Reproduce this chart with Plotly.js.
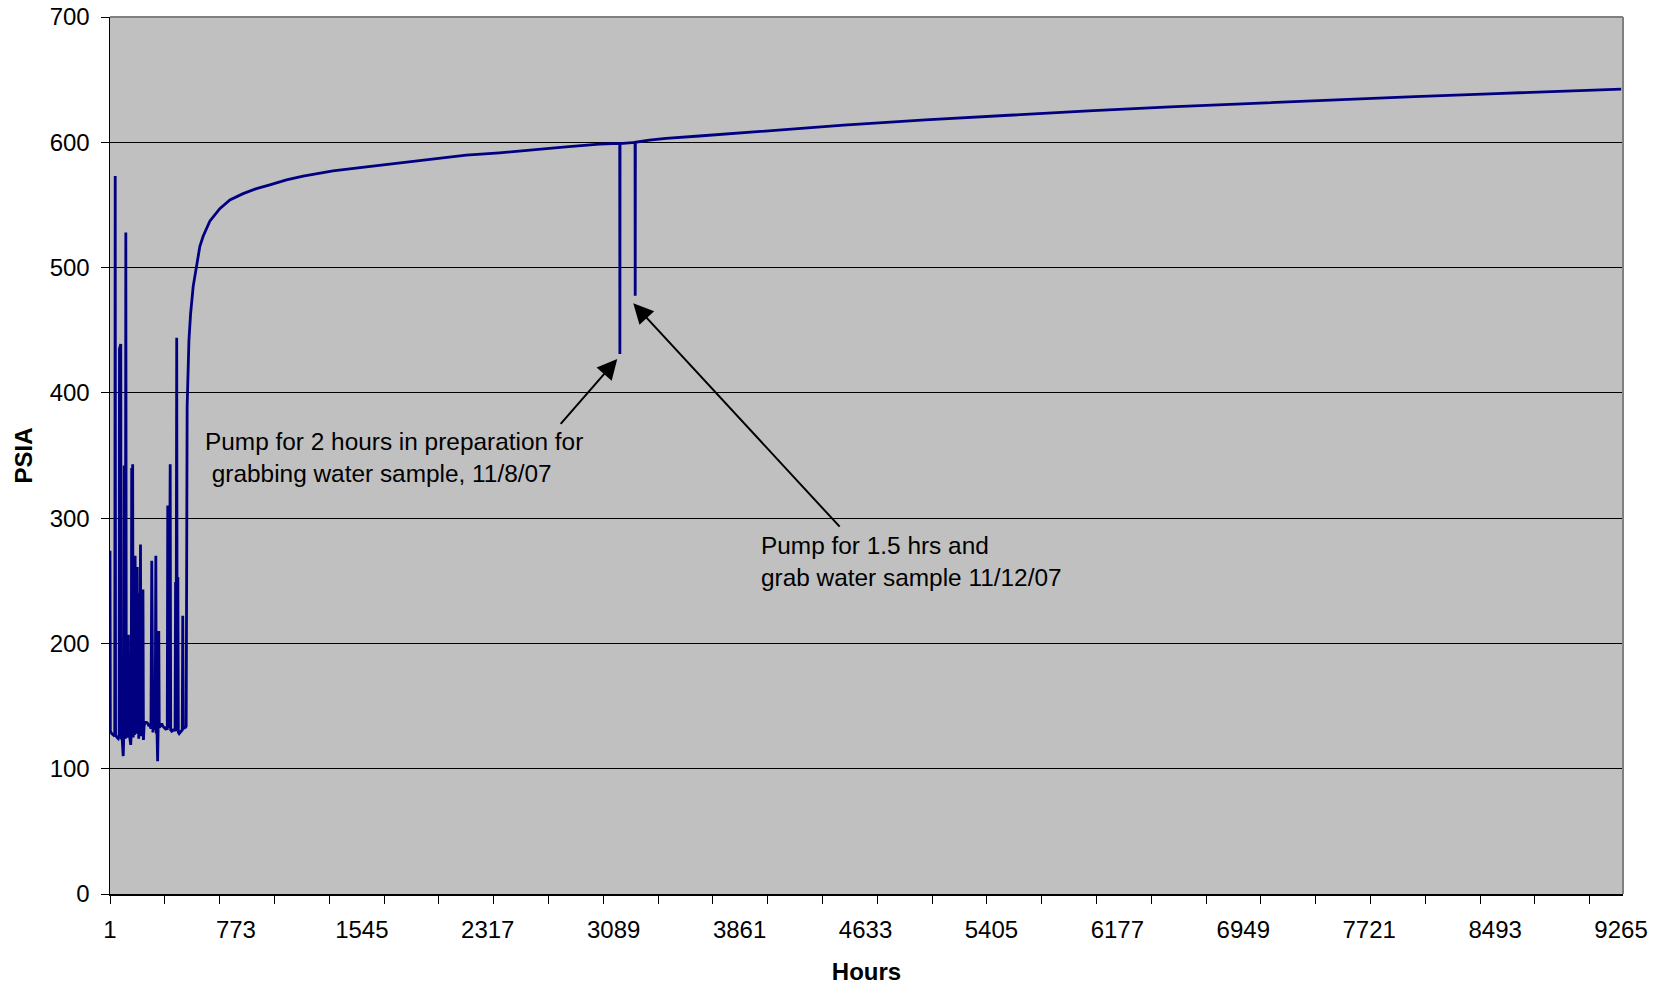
<!DOCTYPE html>
<html>
<head>
<meta charset="utf-8">
<script src="https://cdn.plot.ly/plotly-3.0.1.min.js"></script>
<style>
  html, body { margin: 0; padding: 0; background: #ffffff; }
  #chart { width: 1665px; height: 988px; }
</style>
</head>
<body>
<div id="chart"></div>
<script>
// Elapsed time since start of monitoring (hours)
const hours = [
  1, 3, 12, 22, 30, 33, 35, 44, 52, 57, 59, 67, 69, 76, 82, 85, 88, 91, 95, 98,
  101, 106, 110, 114, 117, 122, 128, 131, 134, 137, 140, 143, 147, 151, 155, 158,
  161, 164, 168, 171, 174, 177, 181, 184, 188, 191, 195, 199, 203, 206, 210, 216,
  225, 233, 240, 245, 252, 257, 260, 264, 268, 273, 278, 282, 285, 289, 293, 296,
  300, 303, 310, 318, 325, 333, 340, 347, 352, 355, 358, 362, 370, 373, 380, 388,
  396, 400, 403, 406, 410, 413, 417, 420, 425, 432, 438, 444, 447, 450, 458, 464,
  468, 470, 474, 485, 495, 511, 532, 552, 572, 613, 674, 736, 817, 899, 981, 1083,
  1185, 1368, 1573, 1777, 1981, 2185, 2389, 2593, 2797, 3001, 3126, 3127, 3128,
  3220, 3221, 3222, 3307, 3410, 3614, 4000, 4500, 5000, 5500, 6000, 6500, 7000,
  7500, 8000, 8500, 9000, 9266
];

// Wellhead pressure (psia)
const psia = [
  274, 130, 128, 127, 126, 573, 127, 125, 124, 126, 435, 439, 125, 123, 110, 124, 342, 126, 124, 528,
  127, 125, 131, 207, 130, 125, 119, 127, 340, 128, 343, 125, 133, 127, 270, 131,
  200, 128, 261, 130, 240, 124, 168, 130, 279, 126, 155, 132, 243, 123, 134, 137,
  137, 136, 134, 135, 132, 266, 131, 129, 135, 133, 131, 270, 128, 130, 106, 131,
  210, 133, 134, 136, 134, 133, 132, 133, 131, 310, 133, 132, 343, 131, 130, 131,
  131, 130, 249, 131, 444, 130, 253, 129, 128, 129, 130, 131, 222, 132, 133, 133,
  134, 300, 389, 442, 463, 485, 503, 517, 525, 537, 547, 554, 559, 563, 566, 570,
  573, 577.2, 580.4, 583.6, 587.1, 589.7, 591.6, 594.3, 596.4, 598.6, 599.1, 431, 599,
  599.9, 477.5, 600, 601.8, 603.1, 605, 609, 613.7, 617.9, 621.7, 625.1, 628.3, 631.2,
  634, 636.5, 638.9, 641.2, 642.4
];

// Labelled hour marks on the time axis
const hourLabels = [1, 773, 1545, 2317, 3089, 3861, 4633, 5405, 6177, 6949, 7721, 8493, 9265];
// Spacing of the small tick marks along the time axis
const tickSpacing = 336;

// Pumping events marked on the chart: hour of the dip and its note
const eventHours = [3127, 3221];
const eventNotes = [
  'Pump for 2 hours in preparation for<br>\u00A0grabbing water sample, 11/8/07',
  'Pump for 1.5 hrs and<br>grab water sample 11/12/07'
];

const FONT = "'Liberation Sans', Arial, Helvetica, sans-serif";
const X_RANGE = [1, 9277];

function dipValue(h) {
  return psia[hours.indexOf(h)];
}

// arrows: tip sits just below-left of each dip's lowest reading
const arrowTails = [[2756, 374], [4483, 292]];
const arrowTipOffset = [[-16, -4], [-12, -6]];

const annotations = [];
eventHours.forEach((h, i) => {
  annotations.push({
    xref: 'x', yref: 'y', axref: 'x', ayref: 'y',
    x: h + arrowTipOffset[i][0], y: dipValue(h) + arrowTipOffset[i][1],
    ax: arrowTails[i][0], ay: arrowTails[i][1],
    text: '', showarrow: true,
    arrowhead: 2, arrowsize: 2, arrowwidth: 2, arrowcolor: '#000000', standoff: 0
  });
});
const notePos = [[0.0615, 0.4975], [0.4287, 0.3795]];
eventNotes.forEach((t, i) => {
  annotations.push({
    xref: 'paper', yref: 'paper',
    x: notePos[i][0], y: notePos[i][1],
    xanchor: 'left', yanchor: 'middle', align: 'left',
    text: t, showarrow: false,
    font: { family: FONT, size: 24.4, color: '#000000' }
  });
});

const trace = {
  x: hours,
  y: psia,
  type: 'scatter',
  mode: 'lines',
  line: { color: '#000080', width: 2.8 },
  hoverinfo: 'x+y'
};

const layout = {
  width: 1665,
  height: 988,
  margin: { l: 110, r: 42, t: 17, b: 94, pad: 0 },
  paper_bgcolor: '#ffffff',
  plot_bgcolor: '#C0C0C0',
  showlegend: false,
  font: { family: FONT, size: 24, color: '#000000' },
  xaxis: {
    range: X_RANGE,
    tickmode: 'array',
    tickvals: hourLabels,
    ticktext: hourLabels.map(String),
    ticks: '',
    ticklabelstandoff: 14,
    minor: {
      tickmode: 'linear',
      tick0: 1.01,
      dtick: tickSpacing,
      ticks: 'outside',
      ticklen: 8,
      tickwidth: 1,
      tickcolor: '#000000',
      showgrid: false
    },
    showgrid: false,
    zeroline: false,
    showline: true,
    linecolor: '#000000',
    linewidth: 1.5,
    tickfont: { family: FONT, size: 24, color: '#000000' },
    title: { text: 'Hours', font: { family: FONT, size: 24, color: '#000000', weight: 'bold' }, standoff: 21 },
    automargin: false
  },
  yaxis: {
    range: [0, 700],
    tickmode: 'linear',
    tick0: 0,
    dtick: 100,
    ticks: 'outside',
    ticklen: 8,
    tickwidth: 1,
    tickcolor: '#000000',
    ticklabelstandoff: 6,
    showgrid: true,
    gridcolor: '#000000',
    gridwidth: 1,
    zeroline: false,
    showline: true,
    linecolor: '#000000',
    linewidth: 1.5,
    tickfont: { family: FONT, size: 24, color: '#000000' },
    title: { text: 'PSIA', font: { family: FONT, size: 24, color: '#000000', weight: 'bold' }, standoff: 10 },
    automargin: false
  },
  shapes: [
    { type: 'line', xref: 'paper', yref: 'paper', x0: 0, x1: 1, y0: 1, y1: 1,
      line: { color: '#808080', width: 2 } },
    { type: 'line', xref: 'paper', yref: 'paper', x0: 1, x1: 1, y0: 0, y1: 1,
      line: { color: '#808080', width: 2 } }
  ],
  annotations: annotations
};

Plotly.newPlot('chart', [trace], layout, { displayModeBar: false, staticPlot: true });
</script>
</body>
</html>
